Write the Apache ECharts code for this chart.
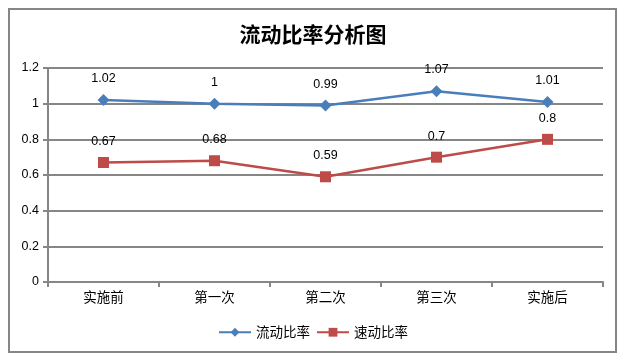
<!DOCTYPE html>
<html><head><meta charset="utf-8">
<script src="https://cdn.jsdelivr.net/npm/echarts@6/dist/echarts.min.js"></script>
<style>html,body{margin:0;padding:0;background:#fff}#c{width:626px;height:361px}</style>
</head><body><div id="c"></div>
<script>
const categories = ['实施前','第一次','第二次','第三次','实施后'];
const currentRatio = [1.02, 1, 0.99, 1.07, 1.01];
const quickRatio = [0.67, 0.68, 0.59, 0.7, 0.8];
const seriesNames = ['流动比率','速动比率'];
const chart = echarts.init(document.getElementById('c'));
const font = '"Liberation Sans","Noto Sans CJK SC",sans-serif';
const cjk = '"Noto Sans CJK SC",sans-serif';
chart.setOption({
  animation:false,
  backgroundColor:'#fff',
  title:{text:'流动比率分析图',left:'center',top:19,textStyle:{fontSize:21,fontWeight:'bold',color:'#000',fontFamily:'"Noto Sans CJK SC",serif'}},
  graphic:[{type:'rect',shape:{x:9,y:9,width:607,height:343},style:{fill:'none',stroke:'#868686',lineWidth:2},silent:true}],
  legend:{bottom:17,left:'center',itemWidth:32,itemHeight:11,itemGap:6,textStyle:{fontSize:13.5,color:'#000',fontFamily:cjk},data:seriesNames},
  grid:{left:48,right:23,top:68,bottom:79,containLabel:false},
  xAxis:{type:'category',data:categories,boundaryGap:true,
    axisLine:{lineStyle:{color:'#868686',width:2}},
    axisTick:{show:true,length:5,lineStyle:{color:'#868686',width:2}},
    axisLabel:{color:'#000',fontSize:13.5,fontFamily:cjk,margin:8}},
  yAxis:{type:'value',min:0,max:1.2,interval:0.2,
    axisLine:{show:true,lineStyle:{color:'#868686',width:2}},
    axisTick:{show:true,length:5,lineStyle:{color:'#868686',width:2}},
    splitLine:{lineStyle:{color:'#868686',width:2}},
    axisLabel:{color:'#000',fontSize:12.5,fontFamily:font,margin:9,formatter:v=>String(Math.round(v*10)/10)}},
  series:[
    {name:seriesNames[0],type:'line',data:currentRatio,symbol:'diamond',symbolSize:12,
     lineStyle:{color:'#4a7ebb',width:2.5},itemStyle:{color:'#4a7ebb'},
     label:{show:true,position:'top',distance:9,color:'#000',fontSize:12.5,fontFamily:font}},
    {name:seriesNames[1],type:'line',data:quickRatio,symbol:'rect',symbolSize:11,
     lineStyle:{color:'#be4b48',width:2.5},itemStyle:{color:'#be4b48'},
     label:{show:true,position:'top',distance:9,color:'#000',fontSize:12.5,fontFamily:font}}
  ]
});
</script></body></html>
